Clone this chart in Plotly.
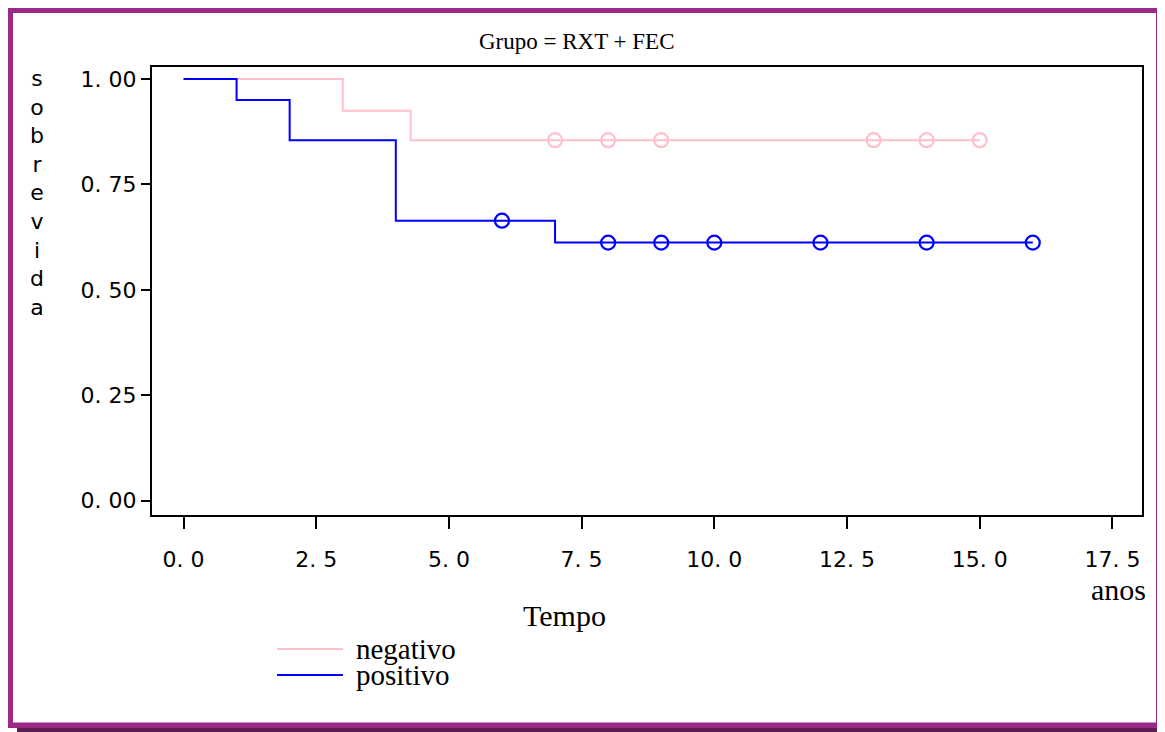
import plotly.graph_objects as go

# ---------------- data ----------------
neg_times = [0, 3, 4.28]
neg_surv = [1.0, 0.925, 0.855]
neg_end = 15
neg_censor = [7, 8, 9, 13, 14, 15]

pos_times = [0, 1, 2, 4, 7]
pos_surv = [1.0, 0.95, 0.855, 0.664, 0.612]
pos_end = 16
pos_censor = [6, 8, 9, 10, 12, 14, 16]

x_ticks = [0, 2.5, 5, 7.5, 10, 12.5, 15, 17.5]
x_tick_labels = ["0. 0", "2. 5", "5. 0", "7. 5", "10. 0", "12. 5", "15. 0", "17. 5"]
y_ticks = [0, 0.25, 0.5, 0.75, 1.0]
y_tick_labels = ["0. 00", "0. 25", "0. 50", "0. 75", "1. 00"]

series_names = ["negativo", "positivo"]
series_colors = ["#FFC0CB", "#0000FF"]

title_text = "Grupo = RXT + FEC"
x_title = "Tempo"
x_unit = "anos"
y_title = "sobrevida"


def surv_at(t, times, surv):
    val = surv[0]
    for ti, si in zip(times, surv):
        if ti <= t:
            val = si
    return val


# ---------------- layout geometry (page pixels) ----------------
PAGE_W, PAGE_H = 1165, 732
OFF = 8  # default body margin of the html page
FW, FH = PAGE_W - OFF, PAGE_H - OFF
L, R, T, B = 152, 1142, 67, 515
W, H = R - L, B - T


def px(xp):
    return (xp - L) / W


def py(yp):
    return (B - yp) / H


fig = go.Figure()

series = [
    (neg_times, neg_surv, neg_end, neg_censor),
    (pos_times, pos_surv, pos_end, pos_censor),
]
for (times, surv, end, cens), name, color in zip(series, series_names, series_colors):
    fig.add_trace(go.Scatter(
        x=list(times) + [end], y=list(surv) + [surv[-1]],
        mode="lines", line=dict(color=color, width=2, shape="hv"),
        name=name, showlegend=False, hoverinfo="skip",
    ))
    fig.add_trace(go.Scatter(
        x=cens, y=[surv_at(c, times, surv) for c in cens],
        mode="markers",
        marker=dict(symbol="circle-open", size=14, color=color, line=dict(width=2.2, color=color)),
        name=name, showlegend=False, hoverinfo="skip",
    ))

tick_font = dict(family="DejaVu Sans", size=22, color="black")
serif = "Liberation Serif"

fig.update_xaxes(
    range=[(L - 183.5) / 53.08, (R - 183.5) / 53.08],
    tickmode="array", tickvals=x_ticks, ticktext=x_tick_labels,
    ticks="outside", ticklen=12, tickwidth=2, tickcolor="black",
    showline=True, linewidth=2, linecolor="black", mirror=True,
    showgrid=False, zeroline=False, tickfont=tick_font,
    ticklabelstandoff=12,
)
fig.update_yaxes(
    range=[(500.7 - B) / 421.7, (500.7 - T) / 421.7],
    tickmode="array", tickvals=y_ticks, ticktext=y_tick_labels,
    ticks="outside", ticklen=9, tickwidth=2, tickcolor="black",
    showline=True, linewidth=2, linecolor="black", mirror=True,
    showgrid=False, zeroline=False, tickfont=tick_font,
)

annotations = [
    dict(text=title_text, x=px(576.5), y=py(41.2), xref="paper", yref="paper",
         xanchor="center", yanchor="middle", showarrow=False,
         font=dict(family=serif, size=23, color="black")),
    dict(text=x_title, x=px(564), y=py(615.5), xref="paper", yref="paper",
         xanchor="center", yanchor="middle", showarrow=False,
         font=dict(family=serif, size=30, color="black")),
    dict(text=x_unit, x=px(1148), y=py(589.5), xref="paper", yref="paper",
         xanchor="right", yanchor="middle", showarrow=False,
         font=dict(family=serif, size=30, color="black")),
    dict(text="<br>".join(list(y_title)), x=px(37), y=py(193), xref="paper", yref="paper",
         xanchor="center", yanchor="middle", showarrow=False,
         font=dict(family="DejaVu Sans", size=22, color="black")),
]
legend_y = [649, 675]
for name, color, ly in zip(series_names, series_colors, legend_y):
    annotations.append(dict(text=name, x=px(354), y=py(ly), xref="paper", yref="paper",
                            xanchor="left", yanchor="middle", showarrow=False,
                            font=dict(family=serif, size=29, color="black")))

shapes = []
for color, ly in zip(series_colors, legend_y):
    shapes.append(dict(type="line", xref="paper", yref="paper",
                       x0=px(277), x1=px(343), y0=py(ly), y1=py(ly),
                       line=dict(color=color, width=2)))


def band(x0, x1, y0, y1, color):
    return dict(type="rect", xref="paper", yref="paper", layer="below",
                x0=px(x0), x1=px(x1), y0=py(y0), y1=py(y1),
                fillcolor=color, line=dict(width=0))


# drop shadow + purple frame
shadow = "rgb(92,28,86)"
purple = "#9B2A86"
shapes += [
    band(1161, 1170, 19, 740, shadow),
    band(17, 1170, 727, 740, shadow),
    band(8, 13, 8, 728, purple),
    band(8, 1162, 8, 13, purple),
    band(1156, 1162, 8, 728, purple),
    band(8, 1162, 722.5, 728, purple),
]

fig.update_layout(
    width=FW, height=FH, autosize=False,
    margin=dict(l=L - OFF, r=PAGE_W - R, t=T - OFF, b=PAGE_H - B, pad=0),
    paper_bgcolor="white", plot_bgcolor="white",
    showlegend=False,
    annotations=annotations, shapes=shapes,
)

fig.write_html("out.html")
